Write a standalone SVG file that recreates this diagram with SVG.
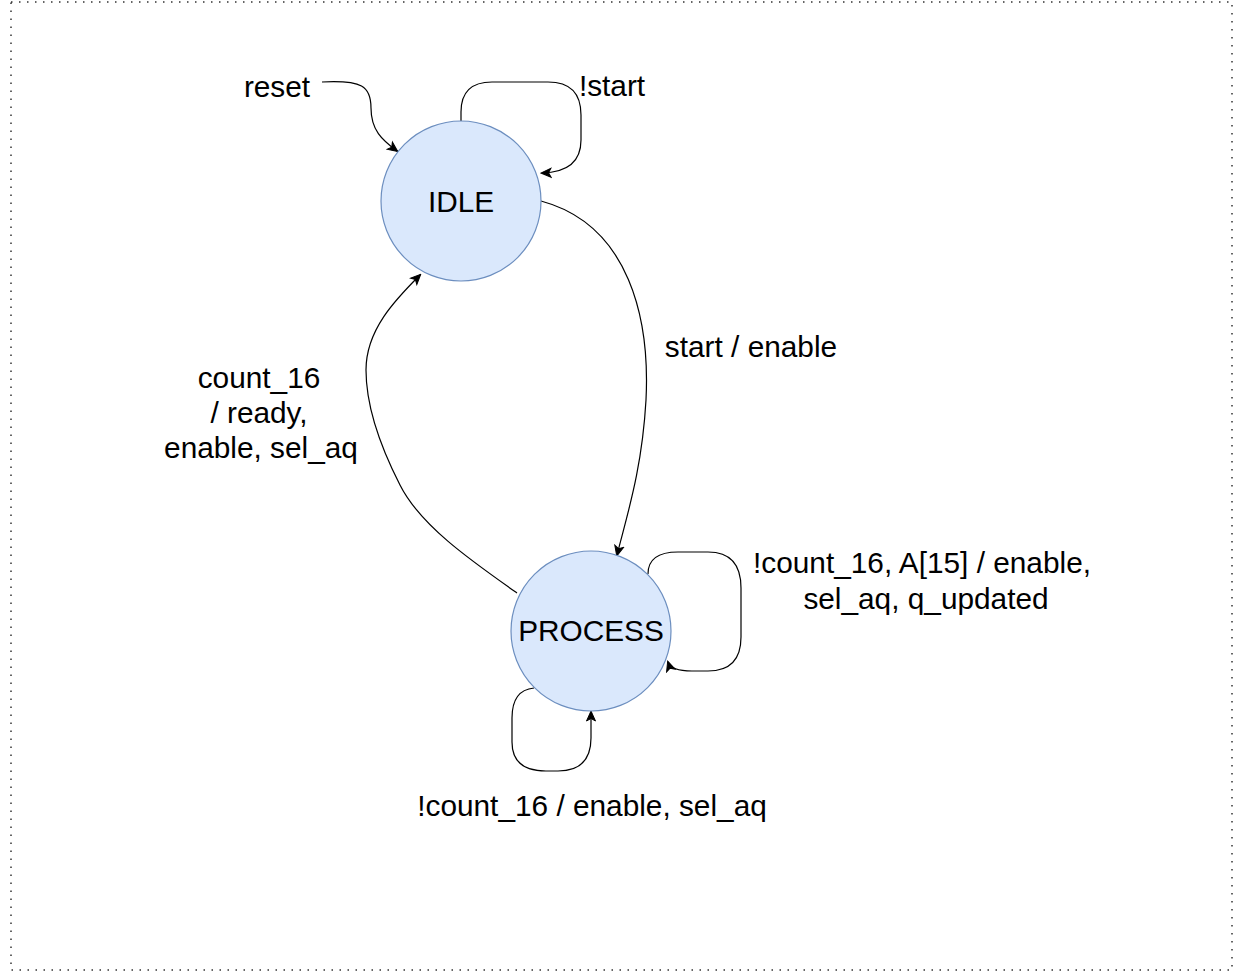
<svg xmlns="http://www.w3.org/2000/svg" width="1244" height="974" viewBox="0 0 1244 974">
<style>
.state{fill:#dae8fc;stroke:#6c8ebf;stroke-width:1.2}
.lbl{font-family:"Liberation Sans",Arial,sans-serif;font-size:29.8px;fill:#000;text-anchor:middle}
.edge{fill:none;stroke:#000;stroke-width:1.2;marker-end:url(#arr)}
</style>
<defs>
<marker id="arr" markerUnits="userSpaceOnUse" markerWidth="12" markerHeight="12" viewBox="0 0 12 12" refX="10" refY="6" orient="auto">
<path d="M1,1.5 L11,6 L1,10.5 L3.5,6 z" fill="#000" stroke="#000" stroke-width="1"/>
</marker>
</defs>
<rect x="11" y="2" width="1221" height="968" fill="#fff" stroke="#333" stroke-width="1.5" stroke-dasharray="1.5 6.5"/>
<g id="connectors">
<path class="edge" d="M322,82 C362,80 371,86 371,108 C371,130 382,140 397,151"/>
<path class="edge" d="M461,121 L461,112 Q461,82 492,82 L548,82 Q581,82 581,115 L581,140 Q581,172 542,173"/>
<path class="edge" d="M541,201 C630,225 650,320 646,400 C642,470 627,515 617,555"/>
<path class="edge" d="M517,593 C470,560 420,525 400,485 C377,440 366,400 366,370 C366,330 395,300 420,275"/>
<path class="edge" d="M648,574 Q648,552 678,552 L708,552 Q741,552 741,588 L741,637 Q741,671 708,671 L692,671 Q671,671 668,662"/>
<path class="edge" d="M534,688 Q512,690 512,718 L512,742 Q512,771 546,771 L558,771 Q591,771 591,738 L591,712"/>
</g>
<g id="node-idle">
<circle class="state" cx="461" cy="201" r="80"/>
<text class="lbl" x="461" y="212">IDLE</text>
</g>
<g id="node-process">
<circle class="state" cx="591" cy="631" r="80"/>
<text class="lbl" x="591" y="641">PROCESS</text>
</g>
<g id="labels">
<text class="lbl" x="277" y="97">reset</text>
<text class="lbl" x="612" y="96">!start</text>
<text class="lbl" x="751" y="357">start / enable</text>
<text class="lbl" x="259" y="388">count_16</text>
<text class="lbl" x="259" y="423">/ ready,</text>
<text class="lbl" x="261" y="458">enable, sel_aq</text>
<text class="lbl" x="922" y="573">!count_16, A[15] / enable,</text>
<text class="lbl" x="926" y="609">sel_aq, q_updated</text>
<text class="lbl" x="592" y="816">!count_16 / enable, sel_aq</text>
</g>
</svg>
